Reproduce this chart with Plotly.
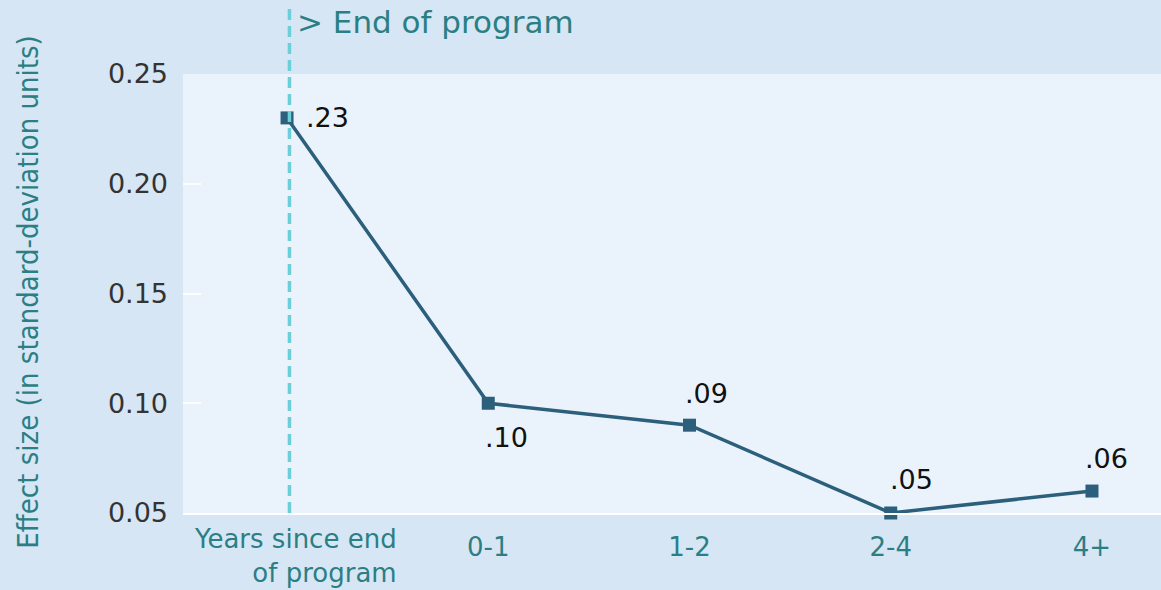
import plotly.graph_objects as go

categories = ["End of program", "0-1", "1-2", "2-4", "4+"]
effect_sizes = [0.23, 0.10, 0.09, 0.05, 0.06]
value_labels = [".23", ".10", ".09", ".05", ".06"]
tick_labels = ["", "0-1", "1-2", "2-4", "4+"]
y_ticks = [0.05, 0.10, 0.15, 0.20, 0.25]
# label placement: (xshift, yshift) in pixels relative to the point
label_offsets = [(17, 0, "left"), (18, -34, "center"), (17, 32, "center"), (21, 34, "center"), (15, 33, "center")]

x_pos = list(range(len(categories)))

TEAL = "#2b7f84"
LINE = "#2c5f7c"
PAPER = "#d7e6f4"
PLOT = "#eaf3fb"
COND = "DejaVu Sans Condensed, Roboto Condensed, Open Sans Condensed, Roboto, sans-serif"

fig = go.Figure()
fig.add_trace(go.Scatter(
    x=x_pos, y=effect_sizes, mode="lines+markers",
    line=dict(color=LINE, width=3.5),
    marker=dict(symbol="square", size=13, color=LINE),
    cliponaxis=False, showlegend=False, hoverinfo="skip",
))

# dashed "end of program" marker line
fig.add_shape(type="line", xref="x", yref="paper", x0=0.012, x1=0.012, y0=0, y1=1.15,
              line=dict(color="#6ccfd8", width=3.5, dash="11px,6px"), layer="above")

annotations = []
for xi, yi, txt, (dx, dy, anc) in zip(x_pos, effect_sizes, value_labels, label_offsets):
    annotations.append(dict(x=xi, y=yi, xref="x", yref="y", text=txt, showarrow=False,
                            xanchor=anc, yanchor="middle", xshift=dx, yshift=dy,
                            font=dict(family="DejaVu Sans", size=27, color="#111111")))

annotations.append(dict(x=0, y=1.118, xref="x", yref="paper", text="> End of program",
                        showarrow=False, xanchor="left", yanchor="middle", xshift=8,
                        font=dict(family="DejaVu Sans", size=31, color=TEAL)))
annotations.append(dict(x=0, y=-0.02, xref="x", yref="paper", text="Years since end<br>of program",
                        showarrow=False, xanchor="right", yanchor="top", xshift=112, align="right",
                        font=dict(family="DejaVu Sans", size=26, color=TEAL)))
annotations.append(dict(x=-0.158, y=0.503, xref="paper", yref="paper",
                        text="Effect size (in standard-deviation units)", textangle=-90,
                        showarrow=False, xanchor="center", yanchor="middle",
                        font=dict(family=COND, size=29, color=TEAL)))

fig.update_layout(
    width=1161, height=590,
    margin=dict(l=183, r=0, t=74, b=77),
    paper_bgcolor=PAPER, plot_bgcolor=PLOT,
    annotations=annotations,
    xaxis=dict(range=[-0.517, 4.343], tickvals=x_pos, ticktext=tick_labels,
               showgrid=False, zeroline=False, showline=True, linecolor="#ffffff", linewidth=2,
               ticks="", ticklabelstandoff=10,
               tickfont=dict(family="DejaVu Sans", size=26, color=TEAL)),
    yaxis=dict(range=[0.05, 0.25], tickvals=y_ticks, tickformat=".2f",
               showgrid=False, zeroline=False, showline=False,
               ticks="inside", ticklen=18, tickcolor="rgba(255,255,255,0.8)", tickwidth=2,
               ticklabelstandoff=14,
               tickfont=dict(family="DejaVu Sans", size=27, color="#333333")),
)

fig.write_html("out.html")
